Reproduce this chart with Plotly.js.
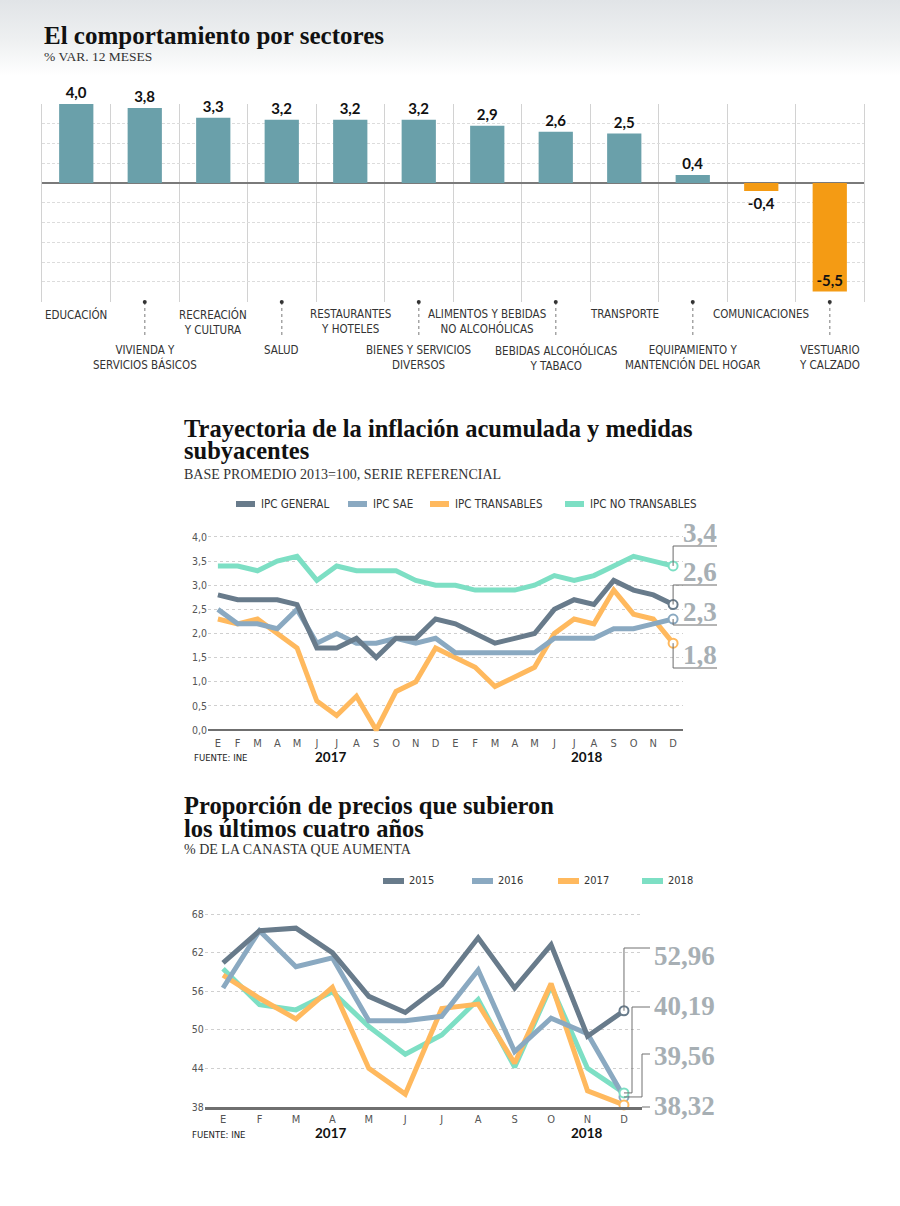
<!DOCTYPE html>
<html><head><meta charset="utf-8">
<script src="https://cdn.plot.ly/plotly-3.0.1.min.js"></script>
<style>
html,body{margin:0;padding:0;}
body{background:linear-gradient(to bottom,#e1e4e7 0px,#eef0f1 40px,#ffffff 76px,#ffffff 100%);}
#chart{width:900px;height:1206px;}
</style>
</head><body><div id="chart"></div>
<script>
// ---------- DATA ----------
const sectores = ['EDUCACIÓN','VIVIENDA Y<br>SERVICIOS BÁSICOS','RECREACIÓN<br>Y CULTURA','SALUD',
  'RESTAURANTES<br>Y HOTELES','BIENES Y SERVICIOS<br>DIVERSOS','ALIMENTOS Y BEBIDAS<br>NO ALCOHÓLICAS',
  'BEBIDAS ALCOHÓLICAS<br>Y TABACO','TRANSPORTE','EQUIPAMIENTO Y<br>MANTENCIÓN DEL HOGAR',
  'COMUNICACIONES','VESTUARIO<br>Y CALZADO'];
const variacion = [4.0,3.8,3.3,3.2,3.2,3.2,2.9,2.6,2.5,0.4,-0.4,-5.5];

const meses = ['E','F','M','A','M','J','J','A','S','O','N','D'];
const meses24 = meses.concat(meses);
const anios2 = ['2017','2018'];

const ipcGeneral     = [2.8,2.7,2.7,2.7,2.6,1.7,1.7,1.9,1.5,1.9,1.9,2.3, 2.2,2.0,1.8,1.9,2.0,2.5,2.7,2.6,3.1,2.9,2.8,2.6];
const ipcSAE         = [2.5,2.2,2.2,2.1,2.5,1.8,2.0,1.8,1.8,1.9,1.8,1.9, 1.6,1.6,1.6,1.6,1.6,1.9,1.9,1.9,2.1,2.1,2.2,2.3];
const ipcTransables  = [2.3,2.2,2.3,2.0,1.7,0.6,0.3,0.7,0.0,0.8,1.0,1.7, 1.5,1.3,0.9,1.1,1.3,2.0,2.3,2.2,2.9,2.4,2.3,1.8];
const ipcNoTransables= [3.4,3.4,3.3,3.5,3.6,3.1,3.4,3.3,3.3,3.3,3.1,3.0, 3.0,2.9,2.9,2.9,3.0,3.2,3.1,3.2,3.4,3.6,3.5,3.4];

const anios3 = ['2015','2016','2017','2018'];
const p2015 = [60.4,65.4,65.8,62.0,55.2,52.7,57.0,64.3,56.5,63.2,49.0,52.96];
const p2016 = [56.5,65.4,59.8,61.2,51.4,51.4,52.1,59.3,46.6,51.8,49.4,39.56];
const p2017 = [58.5,54.9,51.7,56.6,44.0,40.0,53.3,54.0,44.8,57.2,40.5,38.32];
const p2018 = [59.5,53.9,53.1,55.9,50.5,46.2,49.2,54.7,44.2,56.8,44.0,40.19];

// ---------- STYLE / GEOMETRY ----------
const W = 900, H = 1206;
const px = x => x / W, py = y => 1 - y / H;
const SERIF = '"Liberation Serif", "Times New Roman", serif';
const COND = '"Liberation Sans Narrow", "Arial Narrow", "DejaVu Sans Condensed", sans-serif';
const SANSB = 'Lato, "Open Sans", sans-serif';
const C_DARK = '#687b8b', C_SAE = '#8aa9c1', C_TRANS = '#ffb95e', C_NOTR = '#7ddfc4';
const C_TEAL = '#6aa0aa', C_ORANGE = '#f49b14', C_BIG = '#a7afb4';
const fmt = (v, d) => v.toFixed(d).replace('.', ',');

// chart 1 geometry
const G1 = {l: 42, r: 864, t: 104, b: 301.5, yr: [-6, 4]};
// chart 2 geometry
const G2 = {l: 208, r: 683, zero: 730, ppu: 48.25, xr: [-0.5, 23.5], yr: [-0.1, 4.05]};
const x2pix = i => G2.l + (i - G2.xr[0]) / (G2.xr[1] - G2.xr[0]) * (G2.r - G2.l);
const y2pix = v => G2.zero - v * G2.ppu;
// chart 3 geometry
const G3 = {l: 204.8, r: 642.2, base: 1107, ppu: 6.433, xr: [-0.5, 11.5], yr: [38, 68.2]};
const x3pix = i => G3.l + (i - G3.xr[0]) / (G3.xr[1] - G3.xr[0]) * (G3.r - G3.l);
const y3pix = v => G3.base - (v - 38) * G3.ppu;

const traces = [];
const shapes = [];
const ann = [];
const T = (text, x, y, font, xanchor = 'left', yanchor = 'middle') =>
  ({text, x: px(x), y: py(y), xref: 'paper', yref: 'paper', showarrow: false, xanchor, yanchor, font, align: 'left'});
const L = (x0, y0, x1, y1, color, width, dash) =>
  ({type: 'line', xref: 'paper', yref: 'paper', x0: px(x0), y0: py(y0), x1: px(x1), y1: py(y1),
    line: {color, width, dash: dash || 'solid'}});
// two-line title with tight line spacing (base font sets spacing, span sets glyph size)
const title2 = (l1, l2, x, yc, spacingFont) => T(
  `<span style="font-size:24.5px"><b>${l1}</b></span><br><span style="font-size:24.5px"><b>${l2}</b></span>`,
  x, yc, {family: SERIF, size: spacingFont, color: '#111'});

// ---------- CHART 1 ----------
const idx = sectores.map((_, i) => i);
traces.push({
  type: 'bar', x: idx, y: variacion, xaxis: 'x', yaxis: 'y', width: 0.5,
  marker: {color: variacion.map(v => v >= 0 ? C_TEAL : C_ORANGE)},
  text: variacion.map(v => fmt(v, 1)),
  textposition: variacion.map(v => v < -2 ? 'inside' : 'outside'),
  insidetextanchor: 'end', constraintext: 'none', cliponaxis: false,
  textfont: {family: SANSB, size: 15, color: '#111', weight: 'bold'},
  insidetextfont: {family: SANSB, size: 15, color: '#111', weight: 'bold'},
  outsidetextfont: {family: SANSB, size: 15, color: '#111', weight: 'bold'},
  hoverinfo: 'skip'
});
sectores.forEach((s, i) => {
  const low = i % 2 === 1;
  ann.push({text: s, x: i, xref: 'x', y: py(low ? 341 : 305), yref: 'paper', showarrow: false,
    xanchor: 'center', yanchor: 'top', align: 'center',
    font: {family: COND, size: 11.5, color: '#333'}});
  if (low) {
    shapes.push({type: 'line', xref: 'x', x0: i, x1: i, yref: 'paper', y0: py(302), y1: py(336),
      line: {color: '#a5a5a5', width: 1.5, dash: 'dot'}});
    shapes.push({type: 'circle', xref: 'x', xsizemode: 'pixel', xanchor: i, x0: -2, x1: 2,
      yref: 'paper', ysizemode: 'pixel', yanchor: py(302), y0: -2, y1: 2,
      fillcolor: '#333', line: {width: 0}});
  }
});
ann.push(T('<b>El comportamiento por sectores</b>', 42, 36, {family: SERIF, size: 25, color: '#111'}));
ann.push(T('% VAR. 12 MESES', 42, 56, {family: SERIF, size: 13.5, color: '#333'}));

// ---------- CHART 2 ----------
const series2 = [
  {name: 'IPC GENERAL', y: ipcGeneral, color: C_DARK},
  {name: 'IPC SAE', y: ipcSAE, color: C_SAE},
  {name: 'IPC TRANSABLES', y: ipcTransables, color: C_TRANS},
  {name: 'IPC NO TRANSABLES', y: ipcNoTransables, color: C_NOTR}
];
const x24 = meses24.map((_, i) => i);
[3, 2, 1, 0].forEach(k => {
  const s = series2[k];
  traces.push({type: 'scatter', mode: 'lines', x: x24, y: s.y, xaxis: 'x2', yaxis: 'y2',
    line: {color: s.color, width: 5}, hoverinfo: 'skip'});
});
series2.forEach(s => {
  const n = s.y.length - 1;
  traces.push({type: 'scatter', mode: 'markers', x: [n], y: [s.y[n]], xaxis: 'x2', yaxis: 'y2', cliponaxis: false,
    marker: {size: 9, color: '#fff', line: {color: s.color, width: 2}}, hoverinfo: 'skip'});
});
// legend chart 2
const legX2 = [236, 348, 430, 565];
series2.forEach((s, k) => {
  shapes.push(L(legX2[k], 504, legX2[k] + 19, 504, s.color, 6));
  ann.push(T(s.name, legX2[k] + 23, 504, {family: COND, size: 11.5, color: '#333'}));
});
// end labels chart 2
const lab2 = [{s: series2[3], lineY: 546}, {s: series2[0], lineY: 585}, {s: series2[1], lineY: 625}, {s: series2[2], lineY: 668}];
lab2.forEach(o => {
  const n = o.s.y.length - 1, xd = x2pix(n), ym = y2pix(o.s.y[n]);
  shapes.push({type: 'path', xref: 'paper', yref: 'paper',
    path: `M ${px(xd)} ${py(ym)} L ${px(xd)} ${py(o.lineY)} L ${px(717)} ${py(o.lineY)}`,
    line: {color: '#6a6a6a', width: 1}});
  ann.push(T('<b>' + fmt(o.s.y[n], 1) + '</b>', 719, o.lineY - 13, {family: SERIF, size: 27, color: C_BIG}, 'right'));
});
ann.push(title2('Trayectoria de la inflación acumulada y medidas', 'subyacentes', 182, 439.5, 17));
ann.push(T('BASE PROMEDIO 2013=100, SERIE REFERENCIAL', 182, 474, {family: SERIF, size: 14, color: '#333'}));
ann.push(T('FUENTE: INE', 192, 757, {family: COND, size: 9.5, color: '#222'}));
ann.push(T('<b>' + anios2[0] + '</b>', 330, 757, {family: SANSB, size: 13.5, color: '#111'}, 'center'));
ann.push(T('<b>' + anios2[1] + '</b>', 586, 757, {family: SANSB, size: 13.5, color: '#111'}, 'center'));

// ---------- CHART 3 ----------
const series3 = [
  {name: anios3[0], y: p2015, color: C_DARK},
  {name: anios3[1], y: p2016, color: C_SAE},
  {name: anios3[2], y: p2017, color: C_TRANS},
  {name: anios3[3], y: p2018, color: C_NOTR}
];
const x12 = meses.map((_, i) => i);
[3, 2, 1, 0].forEach(k => {
  const s = series3[k];
  traces.push({type: 'scatter', mode: 'lines', x: x12, y: s.y, xaxis: 'x3', yaxis: 'y3',
    line: {color: s.color, width: 5}, hoverinfo: 'skip'});
});
series3.forEach(s => {
  const n = s.y.length - 1;
  traces.push({type: 'scatter', mode: 'markers', x: [n], y: [s.y[n]], xaxis: 'x3', yaxis: 'y3', cliponaxis: false,
    marker: {size: 9, color: '#fff', line: {color: s.color, width: 2}}, hoverinfo: 'skip'});
});
const legX3 = [383, 472, 558, 642];
series3.forEach((s, k) => {
  shapes.push(L(legX3[k], 881, legX3[k] + 21, 881, s.color, 6));
  ann.push(T(s.name, legX3[k] + 24, 881, {family: COND, size: 11, color: '#333'}));
});
const lab3 = [
  {s: series3[0], elbow: null, lineY: 948, textY: 956},
  {s: series3[3], elbow: 632, lineY: 1007, textY: 1006},
  {s: series3[1], elbow: 642, lineY: 1054, textY: 1056},
  {s: series3[2], elbow: 642, lineY: 1107, textY: 1106}
];
lab3.forEach(o => {
  const n = o.s.y.length - 1, xd = x3pix(n), ym = y3pix(o.s.y[n]);
  const ex = o.elbow === null ? xd : o.elbow;
  let path;
  if (o.lineY >= G3.base) path = `M ${px(642)} ${py(o.lineY)} L ${px(650)} ${py(o.lineY)}`;
  else path = `M ${px(xd)} ${py(ym)} L ${px(ex)} ${py(ym)} L ${px(ex)} ${py(o.lineY)} L ${px(650)} ${py(o.lineY)}`;
  shapes.push({type: 'path', xref: 'paper', yref: 'paper', path, line: {color: '#707070', width: 1}});
  ann.push(T('<b>' + fmt(o.s.y[n], 2) + '</b>', 717, o.textY, {family: SERIF, size: 27, color: C_BIG}, 'right'));
});
ann.push(title2('Proporción de precios que subieron', 'los últimos cuatro años', 182, 816.5, 17.5));
ann.push(T('% DE LA CANASTA QUE AUMENTA', 182, 849, {family: SERIF, size: 14, color: '#333'}));
ann.push(T('FUENTE: INE', 190, 1134, {family: COND, size: 9.5, color: '#222'}));
ann.push(T('<b>' + anios2[0] + '</b>', 330, 1133, {family: SANSB, size: 13.5, color: '#111'}, 'center'));
ann.push(T('<b>' + anios2[1] + '</b>', 586, 1133, {family: SANSB, size: 13.5, color: '#111'}, 'center'));

// ---------- LAYOUT ----------
const tickFont = {family: COND, size: 11, color: '#555'};
const layout = {
  width: W, height: H, margin: {l: 0, r: 0, t: 0, b: 0},
  paper_bgcolor: 'rgba(0,0,0,0)', plot_bgcolor: 'rgba(0,0,0,0)',
  showlegend: false, separators: ',.',
  xaxis: {domain: [px(G1.l), px(G1.r)], range: [-0.5, 11.5], anchor: 'y', tick0: 0.5, dtick: 1,
    showgrid: true, gridcolor: '#d2d2d2', gridwidth: 1, zeroline: false, showticklabels: false, ticks: ''},
  yaxis: {domain: [py(G1.b), py(G1.t)], range: G1.yr, anchor: 'x', dtick: 1, showgrid: true,
    gridcolor: '#dcdcdc', griddash: '3px,2px', zeroline: true, zerolinecolor: '#7a7a7a', zerolinewidth: 2,
    showticklabels: false, ticks: '', showline: true, mirror: true, linecolor: '#d2d2d2', linewidth: 1},
  xaxis2: {domain: [px(G2.l), px(G2.r)], range: G2.xr, anchor: 'y2', tickvals: x24, ticktext: meses24,
    showgrid: false, zeroline: false, ticks: '', tickfont: tickFont},
  yaxis2: {domain: [py(y2pix(G2.yr[0])), py(y2pix(G2.yr[1]))], range: G2.yr, anchor: 'x2',
    tickvals: [0, 0.5, 1, 1.5, 2, 2.5, 3, 3.5, 4], tickformat: '.1f', showgrid: true, gridcolor: '#cfcfcf',
    griddash: '3px,3px', zeroline: true, zerolinecolor: '#6f6f6f', zerolinewidth: 2.5, ticks: '',
    tickfont: {family: COND, size: 10.5, color: '#555'}},
  xaxis3: {domain: [px(G3.l), px(G3.r)], range: G3.xr, anchor: 'y3', tickvals: x12, ticktext: meses,
    showgrid: false, zeroline: false, ticks: '', tickfont: tickFont,
    showline: true, linecolor: '#6f6f6f', linewidth: 2.5},
  yaxis3: {domain: [py(y3pix(G3.yr[0])), py(y3pix(G3.yr[1]))], range: G3.yr, anchor: 'x3',
    tickvals: [38, 44, 50, 56, 62, 68], showgrid: true, gridcolor: '#cfcfcf', griddash: '3px,3px',
    zeroline: false, ticks: '', tickfont: {family: COND, size: 10.5, color: '#555'}},
  shapes, annotations: ann
};
Plotly.newPlot('chart', traces, layout, {staticPlot: true, displayModeBar: false});
</script>
</body></html>
